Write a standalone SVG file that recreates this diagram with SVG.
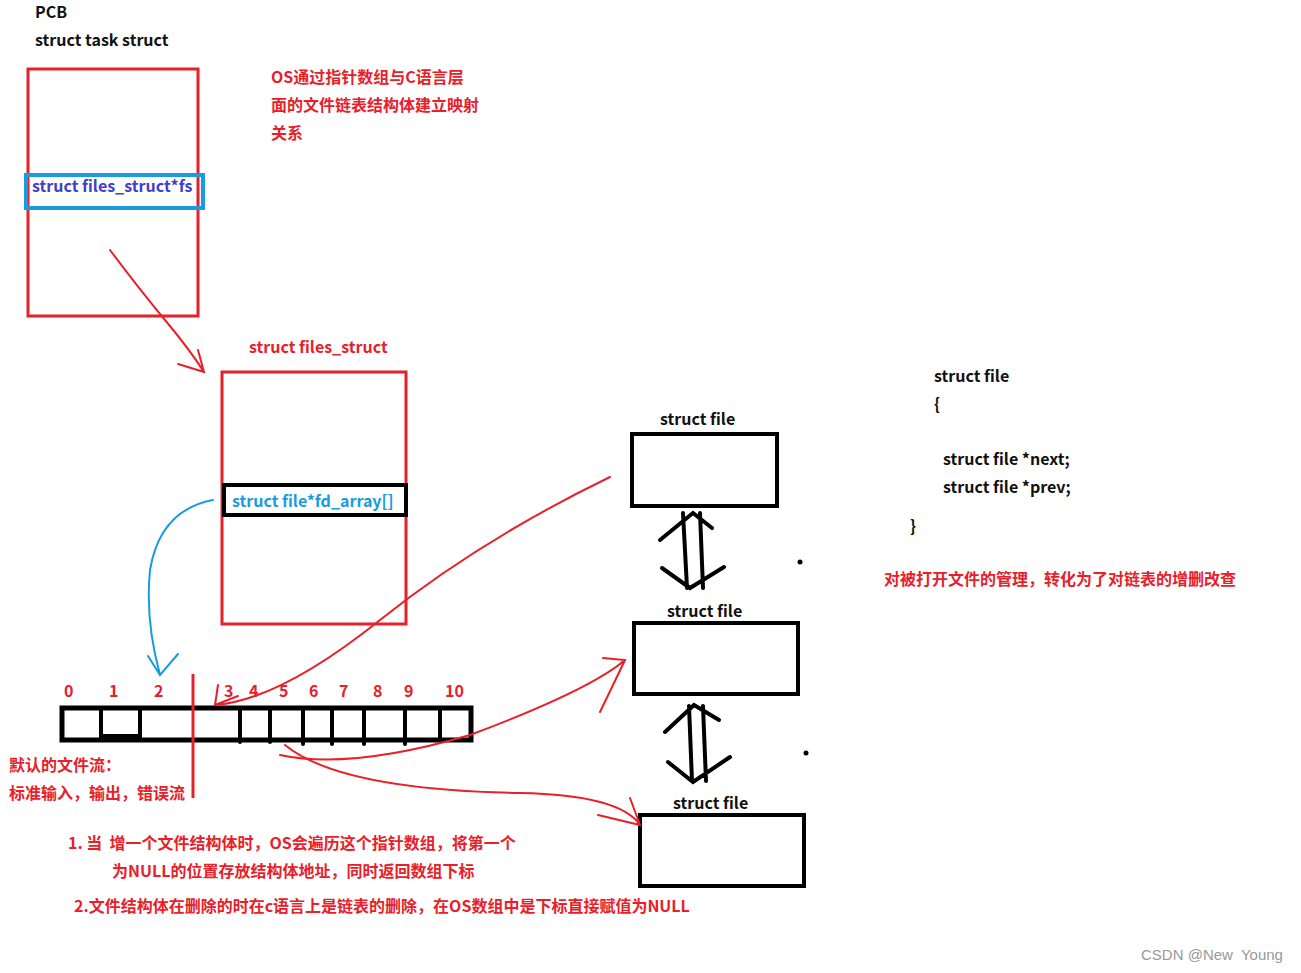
<svg xmlns="http://www.w3.org/2000/svg" width="1301" height="973" viewBox="0 0 1301 973">
<style>
text{font-family:"Noto Sans CJK SC","Liberation Sans",sans-serif;font-size:16px;font-weight:bold}
.k{fill:#111}.r{fill:#e8202a}.b{fill:#1a9be0}
.rs{fill:none;stroke:#e8202a;stroke-width:3}
.ks{fill:none;stroke:#000;stroke-width:4}
.rl{fill:none;stroke:#e8202a;stroke-width:2;stroke-linecap:round}
.bl{fill:none;stroke:#1a9be0;stroke-width:2;stroke-linecap:round}
.kl{fill:none;stroke:#000;stroke-width:4;stroke-linecap:round}
</style>
<rect width="1301" height="973" fill="#fff"/>
<g id="pcb">
<text x="35" y="18" class="k">PCB</text>
<text x="35" y="46" class="k">struct task struct</text>
<rect x="28" y="69" width="170" height="247" class="rs"/>
<rect x="26" y="175" width="177" height="33" fill="none" stroke="#1a9be0" stroke-width="4"/>
<text x="32" y="192" fill="#4040c8">struct files_struct*fs</text>
</g>
<g id="note1">
<text x="271" y="83" class="r">OS通过指针数组与C语言层</text>
<text x="271" y="111" class="r">面的文件链表结构体建立映射</text>
<text x="271" y="139" class="r">关系</text>
</g>
<g id="files_struct">
<text x="249" y="353" class="r">struct files_struct</text>
<rect x="222" y="372" width="184" height="252" class="rs"/>
<rect x="224" y="485" width="182" height="30" class="ks"/>
<text x="232" y="507" class="b">struct file*fd_array[]</text>
</g>
<g id="array">
<rect x="62" y="708" width="409" height="32" fill="none" stroke="#000" stroke-width="5"/>
<path d="M101 708V740M140 708V740M240 708V742M270 708V742M303 708V744M332 708V744M364 708V744M405 708V744M440 708V740" class="kl" stroke-width="3"/>
<path d="M101 736H140" stroke="#000" stroke-width="4"/>
<text y="697" class="r"><tspan x="64">0</tspan><tspan x="109">1</tspan><tspan x="154">2</tspan><tspan x="224">3</tspan><tspan x="249">4</tspan><tspan x="279">5</tspan><tspan x="309">6</tspan><tspan x="339">7</tspan><tspan x="373">8</tspan><tspan x="404">9</tspan><tspan x="445">10</tspan></text>
<path d="M193 674V798" stroke="#e8202a" stroke-width="3"/>
<text x="9" y="771" class="r">默认的文件流：</text>
<text x="9" y="799" class="r">标准输入，输出，错误流</text>
</g>
<g id="file1">
<text x="660" y="425" class="k">struct file</text>
<rect x="632" y="434" width="145" height="72" class="ks"/>
</g>
<g id="file2">
<text x="667" y="617" class="k">struct file</text>
<rect x="634" y="623" width="164" height="71" class="ks"/>
</g>
<g id="file3">
<text x="673" y="809" class="k">struct file</text>
<rect x="640" y="815" width="164" height="71" class="ks"/>
</g>
<g id="def">
<text x="934" y="382" class="k">struct file</text>
<text x="934" y="410" class="k">{</text>
<text x="943" y="465" class="k">struct file *next;</text>
<text x="943" y="493" class="k">struct file *prev;</text>
<text x="910" y="532" class="k">}</text>
<text x="884" y="585" class="r">对被打开文件的管理，转化为了对链表的增删改查</text>
</g>
<g id="notes">
<text x="68" y="849" class="r">1. 当&#160; 增一个文件结构体时，OS会遍历这个指针数组，将第一个</text>
<text x="112" y="877" class="r">为NULL的位置存放结构体地址，同时返回数组下标</text>
<text x="74" y="912" class="r">2.文件结构体在删除的时在c语言上是链表的删除，在OS数组中是下标直接赋值为NULL</text>
</g>
<g id="connectors">
<path d="M110 250Q140 290 165 320T204 372M178 364L204 372L198 350" class="rl"/>
<path d="M213 500Q160 510 150 570Q145 620 160 675M148 656L160 675L178 654" class="bl"/>
<path d="M610 477Q480 540 380 620T215 705M218 685L215 705L238 696" class="rl"/>
<path d="M280 755Q350 770 470 735Q590 690 625 660M603 658L625 660L600 712" class="rl"/>
<path d="M285 745Q340 790 520 793Q620 795 640 825M598 815L640 825L630 798" class="rl"/>
<path d="M683 513L687 588M700 513L703 588M660 540L693 513L712 528M662 568L690 588L724 567" class="kl"/>
<path d="M689 706L692 781M703 706L706 781M665 732L694 705L719 720M668 762L693 782L730 757" class="kl"/>
<circle cx="800" cy="562" r="2.5"/>
<circle cx="806" cy="753" r="2.5"/>
</g>
<text x="1141" y="960" style="font-family:'Liberation Sans',sans-serif;font-weight:normal;font-size:15px" fill="#999">CSDN @New&#160; Young</text>
</svg>
